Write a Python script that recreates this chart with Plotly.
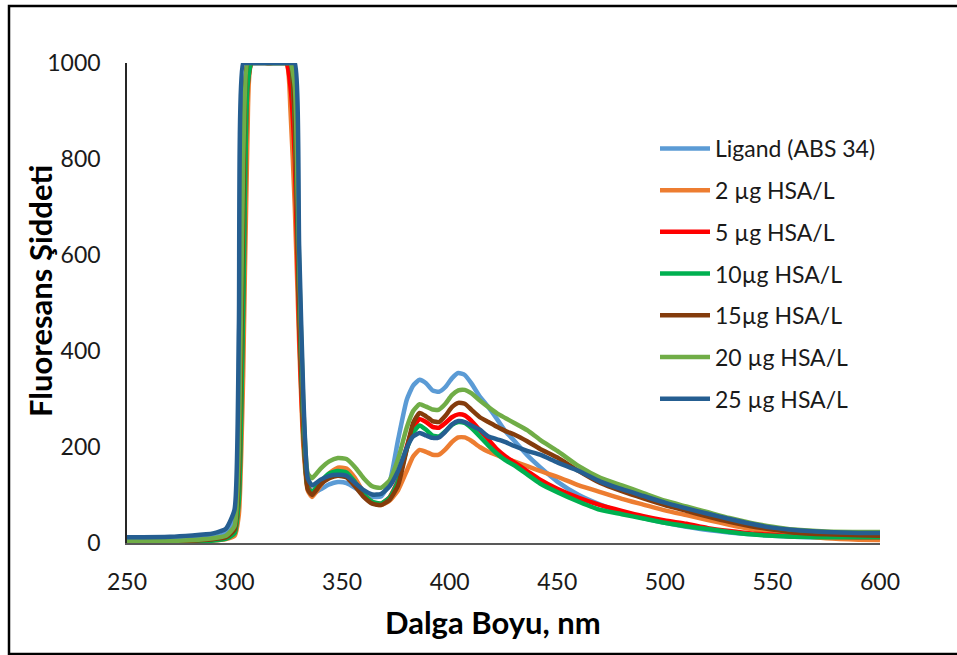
import plotly.graph_objects as go

# Wavelength grid (nm)
wavelength = [250, 270, 290, 296, 300, 302, 304, 306, 308, 316,
              324, 326, 328, 330, 332, 334, 336, 340, 344, 348,
              352, 356, 360, 364, 368, 372, 376, 380, 383, 386,
              389, 392, 395, 398, 401, 404, 407, 410, 414, 418,
              422, 426, 430, 436, 442, 450, 460, 470, 480, 490,
              500, 510, 520, 530, 540, 550, 560, 575, 590, 600]

ligand_abs34 = [5, 6, 12, 20, 45, 250, 850, 1000, 1000, 1000,
                1000, 1000, 950, 550, 260, 125, 102, 112, 122, 127,
                125, 115, 103, 96, 97, 125, 215, 298, 328, 340,
                333, 318, 315, 325, 343, 354, 350, 333, 305, 283,
                258, 232, 213, 183, 158, 128, 100, 80, 64, 52,
                42, 34, 27, 22, 18, 15, 13, 11, 10, 10]

hsa_2 = [1, 2, 5, 8, 15, 60, 350, 850, 1000, 1000,
         1000, 900, 700, 420, 200, 110, 96, 120, 145, 157,
         155, 135, 105, 85, 79, 88, 110, 150, 180, 194,
         190, 184, 184, 195, 210, 220, 220, 213, 200, 190,
         183, 176, 170, 160, 150, 138, 120, 106, 92, 80,
         68, 58, 48, 38, 29, 22, 16, 10, 7, 6]

hsa_5 = [1, 2, 6, 10, 22, 100, 500, 950, 1000, 1000,
         1000, 950, 800, 450, 220, 118, 105, 125, 142, 148,
         145, 125, 100, 85, 82, 95, 130, 200, 240, 258,
         252, 242, 240, 250, 262, 268, 266, 255, 235, 215,
         195, 180, 168, 150, 132, 113, 94, 79, 67, 56,
         47, 40, 31, 25, 20, 17, 14, 13, 12, 12]

hsa_10 = [0, 1, 5, 9, 20, 90, 480, 950, 1000, 1000,
          1000, 1000, 880, 500, 230, 115, 106, 128, 145, 150,
          147, 127, 102, 86, 82, 94, 128, 195, 230, 245,
          236, 224, 222, 233, 246, 252, 250, 240, 222, 203,
          186, 172, 162, 143, 124, 106, 86, 69, 60, 51,
          42, 35, 29, 23, 18, 15, 13, 12, 12, 12]

hsa_15 = [2, 3, 8, 12, 28, 150, 700, 1000, 1000, 1000,
          1000, 1000, 900, 520, 250, 112, 100, 122, 135, 140,
          137, 118, 96, 82, 79, 90, 120, 195, 250, 271,
          264, 254, 252, 265, 283, 292, 290, 278, 262, 252,
          242, 233, 226, 212, 196, 178, 150, 125, 108, 93,
          79, 67, 55, 44, 35, 28, 22, 18, 16, 15]

hsa_20 = [3, 4, 10, 15, 35, 200, 800, 1000, 1000, 1000,
          1000, 1000, 950, 580, 280, 145, 135, 155, 170, 177,
          175, 158, 135, 118, 115, 130, 175, 240, 275, 289,
          284, 278, 278, 290, 308, 318, 319, 312, 297, 283,
          270, 260, 250, 235, 215, 192, 160, 136, 120, 104,
          88, 76, 64, 52, 42, 34, 28, 24, 23, 23]

hsa_25 = [12, 13, 20, 30, 70, 450, 1000, 1000, 1000, 1000,
          1000, 1000, 1000, 620, 300, 135, 120, 132, 140, 142,
          140, 125, 110, 101, 102, 118, 150, 198, 222, 229,
          224, 219, 220, 232, 247, 254, 252, 245, 236, 222,
          216, 210, 202, 192, 184, 168, 150, 128, 112, 98,
          84, 72, 61, 50, 40, 32, 27, 23, 21, 21]

series_names = ["Ligand (ABS 34)", "2 µg HSA/L", "5 µg HSA/L", "10µg HSA/L",
                "15µg HSA/L", "20 µg HSA/L", "25 µg HSA/L"]
series_values = [ligand_abs34, hsa_2, hsa_5, hsa_10, hsa_15, hsa_20, hsa_25]
series_colors = ["#5B9BD5", "#ED7D31", "#FF0000", "#00B050",
                 "#843C0C", "#70AD47", "#255E91"]

x_ticks = [250, 300, 350, 400, 450, 500, 550, 600]
y_ticks = [0, 200, 400, 600, 800, 1000]

FONT = "Lato"
TEXT_COLOR = "#1a1a1a"

fig = go.Figure()
for i, (name, vals, col) in enumerate(zip(series_names, series_values, series_colors)):
    fig.add_trace(go.Scatter(
        x=wavelength, y=vals, mode="lines", name=name,
        line=dict(color=col, width=4.5, shape="spline", smoothing=0.5),
        legendgroup=f"g{i}",
    ))

fig.update_layout(
    width=957, height=655,
    margin=dict(l=127, r=77, t=63, b=112),
    paper_bgcolor="white", plot_bgcolor="white",
    font=dict(family=FONT, color=TEXT_COLOR),
    showlegend=True,
    legend=dict(
        x=(655 - 127) / 753, y=(543 - 127) / 480,
        xanchor="left", yanchor="top",
        font=dict(family=FONT, size=23, color=TEXT_COLOR),
        bgcolor="rgba(0,0,0,0)", itemwidth=50,
        tracegroupgap=8.8,
    ),
    xaxis=dict(
        range=[250, 600], tickvals=x_ticks, showgrid=False, zeroline=False,
        showline=True, linecolor="#595959", linewidth=1.5, ticks="",
        tickfont=dict(family=FONT, size=23, color=TEXT_COLOR),
        ticklabelstandoff=18,
    ),
    yaxis=dict(
        range=[0, 1000], tickvals=y_ticks, showgrid=False, zeroline=False,
        showline=True, linecolor="#262626", linewidth=1.5, ticks="",
        tickfont=dict(family=FONT, size=23, color=TEXT_COLOR),
        ticklabelstandoff=20,
    ),
    annotations=[
        dict(text="<b>Dalga Boyu, nm</b>", xref="paper", yref="paper",
             x=(493 - 127) / 753, y=(543 - 622) / 480,
             xanchor="center", yanchor="middle", showarrow=False,
             font=dict(family=FONT, size=31, color="#000000")),
        dict(text="<b>Fluoresans Şiddeti</b>", xref="paper", yref="paper",
             x=(40 - 127) / 753, y=(543 - 291) / 480, textangle=-90,
             xanchor="center", yanchor="middle", showarrow=False,
             font=dict(family=FONT, size=31, color="#000000")),
    ],
    shapes=[
        dict(type="rect", xref="paper", yref="paper",
             x0=(9 - 127) / 753, x1=(962 - 127) / 753,
             y0=(543 - 654) / 480, y1=(543 - 6) / 480,
             line=dict(color="#000000", width=2.5), fillcolor="rgba(0,0,0,0)",
             layer="below"),
    ],
)

fig.write_html("out.html")
